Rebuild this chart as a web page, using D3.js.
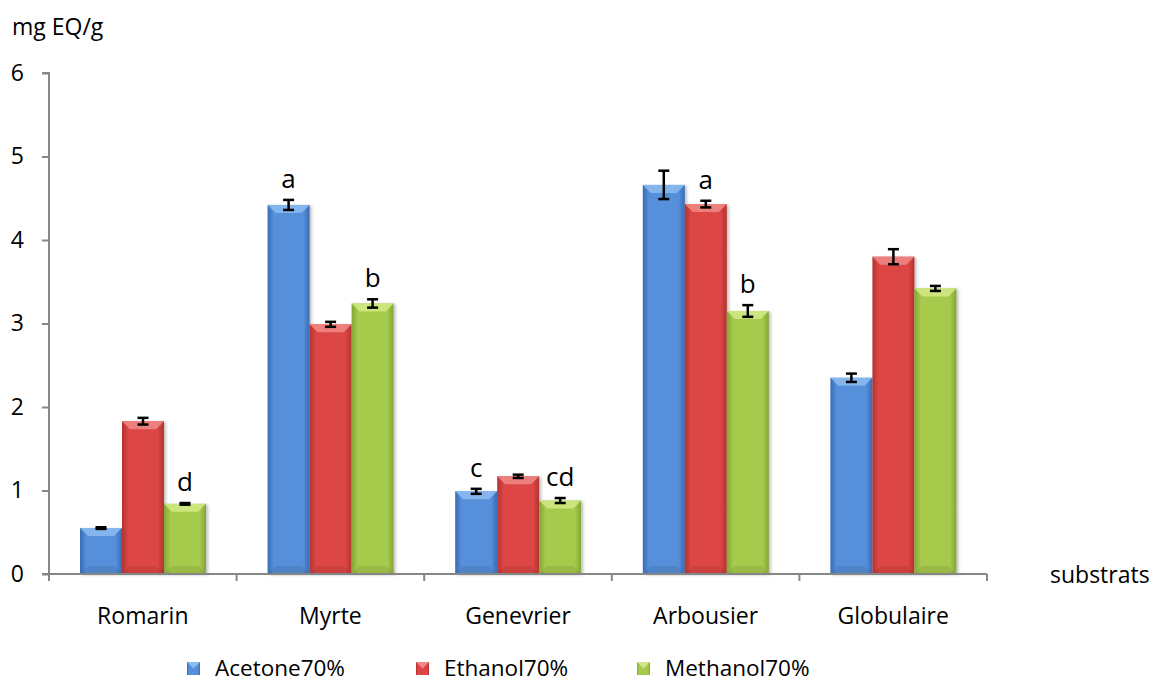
<!DOCTYPE html>
<html><head><meta charset="utf-8">
<script src="https://cdn.jsdelivr.net/npm/d3@7"></script>
<style>body{margin:0;background:#fff;} text{font-family:"Open Sans","Noto Sans",sans-serif;}</style>
</head><body>
<svg id="c" width="1153" height="684"></svg>
<script>
const categories = ["Romarin","Myrte","Genevrier","Arbousier","Globulaire"];
const seriesNames = ["Acetone70%","Ethanol70%","Methanol70%"];
const acetone = [0.55, 4.42, 0.99, 4.66, 2.35];
const ethanol = [1.83, 2.99, 1.17, 4.43, 3.80];
const methanol = [0.84, 3.24, 0.88, 3.15, 3.42];
const acetoneErr = [0.01, 0.06, 0.03, 0.17, 0.05];
const ethanolErr = [0.04, 0.03, 0.02, 0.04, 0.09];
const methanolErr = [0.01, 0.05, 0.03, 0.07, 0.03];
const letters = [ // [category, series, text]
  ["Romarin", 2, "d"], ["Myrte", 0, "a"], ["Myrte", 2, "b"],
  ["Genevrier", 0, "c"], ["Genevrier", 2, "cd"],
  ["Arbousier", 1, "a"], ["Arbousier", 2, "b"]
];
const yTicks = [0,1,2,3,4,5,6];

const values = [acetone, ethanol, methanol];
const errs = [acetoneErr, ethanolErr, methanolErr];
const colors = [
  {mid:"#5790da", edge:"#376cb4", top:"#8cbcf0"},
  {mid:"#dc4644", edge:"#b23331", top:"#f08a86"},
  {mid:"#a6ca4c", edge:"#83a636", top:"#d2ea86"}
];

const svg = d3.select("#c");
const mLeft = 49, mRight = 987, mTop = 73, mBottom = 574;
const x = d3.scaleBand().domain(categories).range([mLeft, mRight]).paddingInner(0).paddingOuter(0);
const x1 = d3.scaleBand().domain([0,1,2]).range([31, 31+126]);
const y = d3.scaleLinear().domain([0,6]).range([mBottom, mTop]);

const defs = svg.append("defs");
colors.forEach((c,i)=>{
  const g = defs.append("linearGradient").attr("id","g"+i).attr("x1","0").attr("x2","1").attr("y1","0").attr("y2","0");
  g.append("stop").attr("offset","0").attr("stop-color",c.edge);
  g.append("stop").attr("offset","0.15").attr("stop-color",c.mid);
  g.append("stop").attr("offset","0.85").attr("stop-color",c.mid);
  g.append("stop").attr("offset","1").attr("stop-color",c.edge);
});
const sh = defs.append("filter").attr("id","sh").attr("x","-20%").attr("y","-20%").attr("width","150%").attr("height","150%");
sh.append("feDropShadow").attr("dx",2).attr("dy",1).attr("stdDeviation",1.5).attr("flood-color","#000").attr("flood-opacity",0.25);

// bars
const bw = x1.bandwidth();
categories.forEach((cat,ci)=>{
  [0,1,2].forEach(si=>{
    const v = values[si][ci];
    const bx = x(cat)+x1(si), by = y(v), bh = y(0)-y(v);
    const g = svg.append("g");
    g.append("rect").attr("x",bx).attr("y",by).attr("width",bw).attr("height",bh)
      .attr("fill","url(#g"+si+")").attr("filter","url(#sh)");
    const b = Math.min(8, bh/2);
    g.append("polygon").attr("points",[[bx,by],[bx+bw,by],[bx+bw-b,by+b],[bx+b,by+b]].map(p=>p.join(",")).join(" "))
      .attr("fill",colors[si].top).attr("opacity",0.85);
    g.append("polygon").attr("points",[[bx,by+bh],[bx+bw,by+bh],[bx+bw-b,by+bh-b],[bx+b,by+bh-b]].map(p=>p.join(",")).join(" "))
      .attr("fill","#000").attr("opacity",0.08);
  });
});

// error bars
categories.forEach((cat,ci)=>{
  [0,1,2].forEach(si=>{
    const v = values[si][ci], e = errs[si][ci];
    const cx = x(cat)+x1(si)+bw/2;
    const y1 = y(v+e), y2 = y(v-e);
    const g = svg.append("g").attr("stroke","#000").attr("stroke-width",2.5);
    g.append("line").attr("x1",cx).attr("x2",cx).attr("y1",y1).attr("y2",y2);
    g.append("line").attr("x1",cx-5.5).attr("x2",cx+5.5).attr("y1",y1).attr("y2",y1);
    g.append("line").attr("x1",cx-5.5).attr("x2",cx+5.5).attr("y1",y2).attr("y2",y2);
  });
});

// letters
letters.forEach(([cat,si,t])=>{
  const ci = categories.indexOf(cat);
  const v = values[si][ci] + errs[si][ci];
  svg.append("text").attr("x",x(cat)+x1(si)+bw/2).attr("y",y(v)-12)
    .attr("text-anchor","middle").attr("font-size",26).attr("fill","#000").text(t);
});

// axes
const axisColor = "#868686";
const yAxis = svg.append("g").attr("transform",`translate(${mLeft},0)`)
  .call(d3.axisLeft(y).tickValues(yTicks).tickSize(7).tickPadding(18).tickFormat(d3.format("d")));
yAxis.select(".domain").attr("stroke",axisColor).attr("stroke-width",2).attr("d",`M-7,${mTop}H0V${mBottom}`);
yAxis.selectAll(".tick line").attr("stroke",axisColor).attr("stroke-width",2);
yAxis.selectAll(".tick text").attr("font-size",23).attr("fill","#000").attr("font-family","Open Sans, sans-serif");

const xAxis = svg.append("g").attr("transform",`translate(0,${mBottom})`)
  .call(d3.axisBottom(x).tickSize(0).tickPadding(34));
xAxis.select(".domain").attr("stroke",axisColor).attr("stroke-width",2).attr("d",`M${mLeft-7},0H${mRight}`);
xAxis.selectAll(".tick text").attr("font-size",23).attr("fill","#000").attr("font-family","Open Sans, sans-serif");
const boundaries = categories.map(c=>x(c)).concat([mRight]);
xAxis.selectAll(".bt").data(boundaries).enter().append("line")
  .attr("x1",d=>d).attr("x2",d=>d).attr("y1",0).attr("y2",7).attr("stroke",axisColor).attr("stroke-width",2);

svg.append("text").attr("x",12).attr("y",35).attr("font-size",23).text("mg EQ/g");
svg.append("text").attr("x",1050).attr("y",583).attr("font-size",23).text("substrats");

// legend
const legX = [187, 416, 637];
seriesNames.forEach((n,i)=>{
  const g = svg.append("g").attr("transform",`translate(${legX[i]},662)`);
  g.append("rect").attr("width",13).attr("height",13).attr("fill","url(#g"+i+")");
  g.append("polygon").attr("points","0,0 13,0 6.5,6.5").attr("fill",colors[i].top);
  g.append("text").attr("x",28).attr("y",14).attr("font-size",22.5).text(n);
});
</script>
</body></html>
